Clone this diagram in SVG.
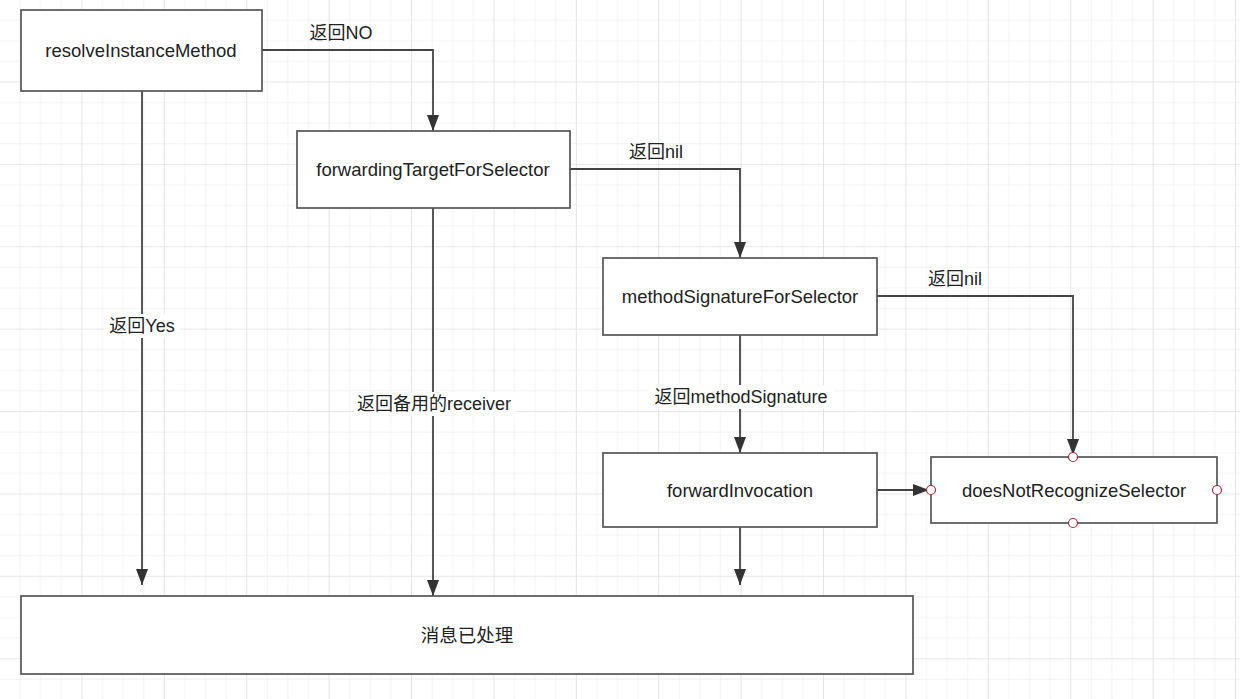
<svg xmlns="http://www.w3.org/2000/svg" width="1240" height="699" viewBox="0 0 1240 699">
<defs>
<pattern id="minor" width="20.6" height="20.6" patternUnits="userSpaceOnUse" x="0" y="0">
<path d="M20.6 0 V20.6 M0 20.6 H20.6" fill="none" stroke="#e8e8e8" stroke-width="1"/>
</pattern>
<pattern id="major" width="82.4" height="82.4" patternUnits="userSpaceOnUse" x="0" y="0">
<rect width="82.4" height="82.4" fill="url(#minor)"/>
<path d="M82.4 0 V82.4 M0 82.4 H82.4" fill="none" stroke="#dcdcdc" stroke-width="1.2"/>
</pattern>
<marker id="arrL" viewBox="0 0 16 12" refX="16" refY="6" markerWidth="16" markerHeight="12" markerUnits="userSpaceOnUse" orient="auto">
<path d="M0 0 L16 6 L0 12 Z" fill="#333"/>
</marker>
</defs>
<style>
.box{fill:#fff;stroke:#555;stroke-width:1.7}
.t{font-family:"Liberation Sans","Noto Sans CJK SC",sans-serif;font-size:18.5px;fill:#222;text-anchor:middle;dominant-baseline:central}
.l{font-family:"Liberation Sans","Noto Sans CJK SC",sans-serif;font-size:18px;fill:#222;text-anchor:middle;dominant-baseline:central}
.ln{fill:none;stroke:#444;stroke-width:1.8}
.port{fill:#fff;stroke:#a0303a;stroke-width:1.2}
.lbg{fill:#fff}
</style>
<rect width="1240" height="699" fill="#fff"/>
<rect width="1240" height="699" fill="url(#major)"/>

<g id="connectors">
<path class="ln" d="M262 50 H433 V131" marker-end="url(#arrL)"/>
<path class="ln" d="M142 91 V585" marker-end="url(#arrL)"/>
<path class="ln" d="M570 169 H740 V258" marker-end="url(#arrL)"/>
<path class="ln" d="M433 208 V596" marker-end="url(#arrL)"/>
<path class="ln" d="M877 296 H1073 V455" marker-end="url(#arrL)"/>
<path class="ln" d="M740 335 V453" marker-end="url(#arrL)"/>
<path class="ln" d="M877 490 H929" marker-end="url(#arrL)"/>
<path class="ln" d="M740 527 V585" marker-end="url(#arrL)"/>
<text class="l" x="341" y="33">返回NO</text>
<text class="l" x="656" y="152">返回nil</text>
<text class="l" x="955" y="279">返回nil</text>
<rect class="lbg" x="104" y="314" width="76" height="24"/>
<text class="l" x="142" y="326">返回Yes</text>
<rect class="lbg" x="354" y="392" width="162" height="24"/>
<text class="l" x="434" y="404">返回备用的receiver</text>
<rect class="lbg" x="648" y="385" width="186" height="24"/>
<text class="l" x="741" y="397">返回methodSignature</text>
</g>

<g id="resolveInstanceMethod">
<rect class="box" x="21" y="10" width="241" height="81"/>
<text class="t" x="141" y="50">resolveInstanceMethod</text>
</g>
<g id="forwardingTargetForSelector">
<rect class="box" x="297" y="131" width="273" height="77"/>
<text class="t" x="433" y="169">forwardingTargetForSelector</text>
</g>
<g id="methodSignatureForSelector">
<rect class="box" x="603" y="258" width="274" height="77"/>
<text class="t" x="740" y="296">methodSignatureForSelector</text>
</g>
<g id="forwardInvocation">
<rect class="box" x="603" y="453" width="274" height="74"/>
<text class="t" x="740" y="490">forwardInvocation</text>
</g>
<g id="doesNotRecognizeSelector">
<rect class="box" x="931" y="457" width="286" height="66"/>
<text class="t" x="1074" y="490">doesNotRecognizeSelector</text>
<circle class="port" cx="1073" cy="457" r="4.5"/>
<circle class="port" cx="931" cy="490" r="4.5"/>
<circle class="port" cx="1217" cy="490" r="4.5"/>
<circle class="port" cx="1073" cy="523" r="4.5"/>
</g>
<g id="handled">
<rect class="box" x="21" y="596" width="892" height="78"/>
<text class="t" x="467" y="635">消息已处理</text>
</g>
</svg>
